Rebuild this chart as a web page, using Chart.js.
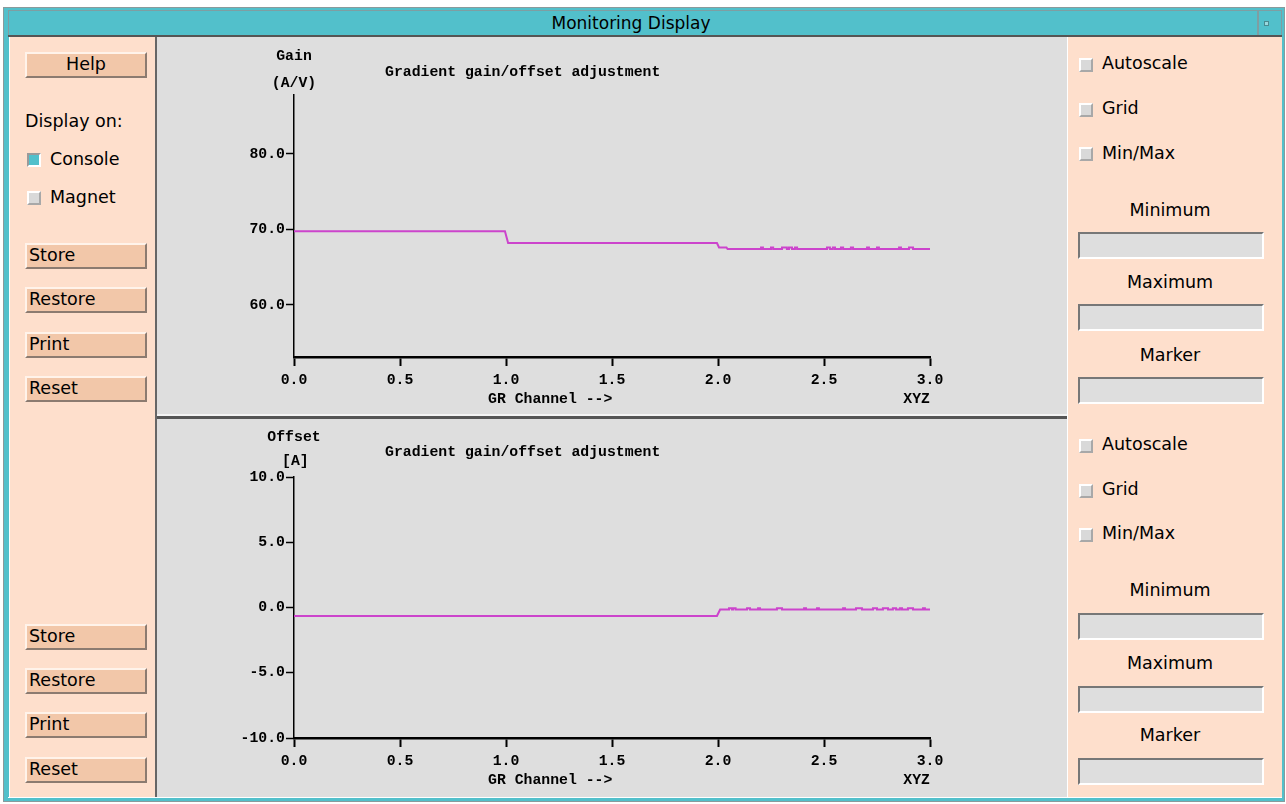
<!DOCTYPE html>
<html>
<head>
<meta charset="utf-8">
<script src="https://cdn.jsdelivr.net/npm/chart.js@4.4.1/dist/chart.umd.min.js"></script>
<style>
body { margin:0; width:1286px; height:804px; background:#fff; position:relative; overflow:hidden;
       font-family:"DejaVu Sans", sans-serif; font-size:17.5px; color:#000; }
.a { position:absolute; box-sizing:border-box; }
.peach { background:#fedfcc; }
.gray { background:#dedede; }
.btn { position:absolute; box-sizing:border-box; left:25px; width:122px; height:26px; background:#f2c7a9;
       border-top:2px solid #fff3ea; border-left:2px solid #fff3ea; border-bottom:2px solid #8c7b70; border-right:2px solid #8c7b70;
       line-height:21px; padding-left:2px; }
.lbl { position:absolute; height:22px; line-height:22px; white-space:nowrap; }
.cb { position:absolute; width:14px; height:14px; box-sizing:border-box; background:#d9d9d9;
      border-top:2px solid #fff; border-left:2px solid #fff; border-bottom:2px solid #a8a8a8; border-right:2px solid #a8a8a8; }
.cb.on { background:#52c0cb; border-top-color:#9a9a9a; border-left-color:#9a9a9a; border-bottom-color:#fff; border-right-color:#fff; }
.inp { position:absolute; left:1078px; width:186px; height:27px; box-sizing:border-box; background:#dedede;
       border-top:2px solid #777; border-left:2px solid #777; border-bottom:2px solid #fff; border-right:2px solid #fff; }
.ctr { position:absolute; left:1070px; width:200px; text-align:center; height:22px; line-height:22px; }
canvas { position:absolute; }
</style>
</head>
<body>
<!-- window frame -->
<div class="a" style="left:3px;top:7px;width:1282px;height:795px;background:#52c0cb;border:1px solid #8a9a9c;"></div>
<div class="a" style="left:8px;top:10px;width:1250px;height:26px;border:1px solid #7f9ea2;"></div>
<div class="a" style="left:1258px;top:10px;width:24px;height:26px;border:1px solid #7f9ea2;"></div>
<div class="a" style="left:1264px;top:21px;width:5px;height:5px;background:#9ad8de;border:1px solid #4a8a90;"></div>
<div class="lbl" style="left:0;width:1262px;top:12px;text-align:center;font-size:17px;">Monitoring Display</div>
<div class="a" style="left:8px;top:35px;width:1274px;height:2px;background:#555;"></div>

<!-- left panel -->
<div class="a peach" style="left:9px;top:37px;width:146px;height:760px;border-left:1px solid #fff;"></div>
<div class="a" style="left:155px;top:37px;width:2px;height:760px;background:#666;"></div>
<div class="btn" style="top:52px;text-align:center;padding-left:0;">Help</div>
<div class="lbl" style="left:25px;top:110px;">Display on:</div>
<div class="cb on" style="left:27px;top:153px;"></div>
<div class="lbl" style="left:50px;top:148px;">Console</div>
<div class="cb" style="left:27px;top:191px;"></div>
<div class="lbl" style="left:50px;top:186px;">Magnet</div>
<div class="btn" style="top:243px;">Store</div>
<div class="btn" style="top:287px;">Restore</div>
<div class="btn" style="top:332px;">Print</div>
<div class="btn" style="top:376px;">Reset</div>
<div class="btn" style="top:624px;">Store</div>
<div class="btn" style="top:668px;">Restore</div>
<div class="btn" style="top:712px;">Print</div>
<div class="btn" style="top:757px;">Reset</div>

<!-- plot panels -->
<div class="a gray" style="left:157px;top:37px;width:910px;height:379px;"></div>
<div class="a" style="left:157px;top:414px;width:910px;height:2px;background:#f4f4f4;"></div>
<div class="a" style="left:157px;top:416px;width:910px;height:3px;background:#555;"></div>
<div class="a gray" style="left:157px;top:419px;width:910px;height:378px;"></div>
<canvas id="gainChart" style="left:157px;top:37px;" width="910" height="380"></canvas>
<canvas id="offsetChart" style="left:157px;top:419px;" width="910" height="378"></canvas>

<!-- right panel -->
<div class="a peach" style="left:1067px;top:37px;width:215px;height:760px;border-left:1px solid #fff;"></div>
<div class="cb" style="left:1079px;top:58px;"></div><div class="lbl" style="left:1102px;top:52px;">Autoscale</div>
<div class="cb" style="left:1079px;top:103px;"></div><div class="lbl" style="left:1102px;top:97px;">Grid</div>
<div class="cb" style="left:1079px;top:147px;"></div><div class="lbl" style="left:1102px;top:142px;">Min/Max</div>
<div class="ctr" style="top:199px;">Minimum</div><div class="inp" style="top:232px;"></div>
<div class="ctr" style="top:271px;">Maximum</div><div class="inp" style="top:304px;"></div>
<div class="ctr" style="top:344px;">Marker</div><div class="inp" style="top:377px;"></div>

<div class="cb" style="left:1079px;top:439px;"></div><div class="lbl" style="left:1102px;top:433px;">Autoscale</div>
<div class="cb" style="left:1079px;top:484px;"></div><div class="lbl" style="left:1102px;top:478px;">Grid</div>
<div class="cb" style="left:1079px;top:528px;"></div><div class="lbl" style="left:1102px;top:522px;">Min/Max</div>
<div class="ctr" style="top:579px;">Minimum</div><div class="inp" style="top:613px;"></div>
<div class="ctr" style="top:652px;">Maximum</div><div class="inp" style="top:686px;"></div>
<div class="ctr" style="top:724px;">Marker</div><div class="inp" style="top:758px;"></div>
<div class="a" style="left:8px;top:797px;width:1274px;height:1px;background:#fff;"></div>

<script>
// gain trace, GR channel vs. gain (A/V)
const gainX = [0, 0.995, 1.01, 1.995, 2.005, 2.04, 2.045,
  2.203, 2.203, 2.212, 2.212, 2.25, 2.25, 2.26, 2.26, 2.302, 2.302, 2.325, 2.325,
  2.335, 2.335, 2.349, 2.349, 2.363, 2.363, 2.373, 2.373, 2.514, 2.514, 2.528, 2.528,
  2.542, 2.542, 2.552, 2.552, 2.58, 2.58, 2.59, 2.59, 2.627, 2.627, 2.637, 2.637,
  2.703, 2.703, 2.712, 2.712, 2.75, 2.75, 2.759, 2.759, 2.854, 2.854, 2.863, 2.863,
  2.901, 2.901, 2.92, 2.92, 3.0];
const gainY = [69.75, 69.75, 68.2, 68.2, 67.6, 67.6, 67.4,
  67.4, 67.6, 67.6, 67.4, 67.4, 67.6, 67.6, 67.4, 67.4, 67.6, 67.6, 67.4,
  67.4, 67.6, 67.6, 67.4, 67.4, 67.6, 67.6, 67.4, 67.4, 67.6, 67.6, 67.4,
  67.4, 67.6, 67.6, 67.4, 67.4, 67.6, 67.6, 67.4, 67.4, 67.6, 67.6, 67.4,
  67.4, 67.6, 67.6, 67.4, 67.4, 67.6, 67.6, 67.4, 67.4, 67.6, 67.6, 67.4,
  67.4, 67.6, 67.6, 67.4, 67.4];

// offset trace, GR channel vs. offset [A]
const offsetX = [0, 1.995, 2.01,
  2.052, 2.052, 2.066, 2.066, 2.071, 2.071, 2.083, 2.083, 2.137, 2.137, 2.151, 2.151,
  2.189, 2.189, 2.198, 2.198, 2.278, 2.278, 2.302, 2.302, 2.406, 2.406, 2.415, 2.415,
  2.467, 2.467, 2.476, 2.476, 2.59, 2.59, 2.599, 2.599, 2.651, 2.651, 2.679, 2.679,
  2.731, 2.731, 2.75, 2.75, 2.778, 2.778, 2.802, 2.802, 2.825, 2.825, 2.84, 2.84,
  2.858, 2.858, 2.868, 2.868, 2.896, 2.896, 2.92, 2.92, 2.967, 2.967, 2.976, 2.976, 3.0];
const offsetY = [-0.65, -0.65, -0.15,
  -0.15, -0.05, -0.05, -0.15, -0.15, -0.05, -0.05, -0.15, -0.15, -0.05, -0.05, -0.15,
  -0.15, -0.05, -0.05, -0.15, -0.15, -0.05, -0.05, -0.15, -0.15, -0.05, -0.05, -0.15,
  -0.15, -0.05, -0.05, -0.15, -0.15, -0.05, -0.05, -0.15, -0.15, -0.05, -0.05, -0.15,
  -0.15, -0.05, -0.05, -0.15, -0.15, -0.05, -0.05, -0.15, -0.15, -0.05, -0.05, -0.15,
  -0.15, -0.05, -0.05, -0.15, -0.15, -0.05, -0.05, -0.15, -0.15, -0.05, -0.05, -0.15, -0.15];

const gainTicks = [60, 70, 80];
const offsetTicks = [-10, -5, 0, 5, 10];
const xTicks = [0, 0.5, 1, 1.5, 2, 2.5, 3];

const monoFont = 'bold 14.8px "Liberation Mono", monospace';

// extra text round the plot: axis names, title, units
function textPlugin(texts) {
    return {
        id: 'texts',
        afterDraw(chart) {
            const ctx = chart.ctx;
            const area = chart.chartArea;
            ctx.save();
            ctx.font = monoFont;
            ctx.fillStyle = '#000';
            ctx.textBaseline = 'middle';
            for (const t of texts) {
                ctx.textAlign = t.align;
                ctx.fillText(t.text, area.left + t.dx, (t.fromBottom ? area.bottom : area.top) + t.dy);
            }
            ctx.restore();
        }
    };
}

function makeChart(id, xs, ys, yMin, yMax, yTicks, height, plotBottom, texts) {
    return new Chart(document.getElementById(id), {
        type: 'line',
        data: {
            datasets: [{
                data: xs.map((x, i) => ({x: x, y: ys[i]})),
                borderColor: '#cc44cc',
                borderWidth: 2,
                pointRadius: 0,
                tension: 0,
                fill: false
            }]
        },
        options: {
            responsive: false,
            animation: false,
            layout: { padding: { left: 0, right: 137, top: 58, bottom: 0 } },
            plugins: { legend: { display: false }, tooltip: { enabled: false } },
            scales: {
                x: {
                    type: 'linear',
                    min: 0,
                    max: 3,
                    afterBuildTicks: (s) => { s.ticks = xTicks.map(v => ({value: v})); },
                    afterFit: (s) => { s.height = height - plotBottom; },
                    ticks: {
                        callback: (v) => v.toFixed(1),
                        color: '#000',
                        font: { family: '"Liberation Mono", monospace', weight: 'bold', size: 14.8 },
                        padding: 5,
                        maxRotation: 0,
                        autoSkip: false
                    },
                    grid: { drawOnChartArea: false, tickLength: 9, tickWidth: 2, tickColor: '#000' },
                    border: { color: '#000', width: 2.5 }
                },
                y: {
                    min: yMin,
                    max: yMax,
                    afterBuildTicks: (s) => { s.ticks = yTicks.map(v => ({value: v})); },
                    afterFit: (s) => { s.width = 137; },
                    ticks: {
                        callback: (v) => v.toFixed(1),
                        color: '#000',
                        font: { family: '"Liberation Mono", monospace', weight: 'bold', size: 14.8 },
                        padding: 1
                    },
                    grid: { drawOnChartArea: false, tickLength: 8, tickWidth: 1.5, tickColor: '#000' },
                    border: { color: '#000', width: 1.5 }
                }
            }
        },
        plugins: [textPlugin(texts)]
    });
}

makeChart('gainChart', gainX, gainY, 53.1, 87.8, gainTicks, 380, 320, [
    {text: 'Gain', dx: 0, dy: -39, align: 'center'},
    {text: '(A/V)', dx: 0, dy: -12, align: 'center'},
    {text: 'Gradient gain/offset adjustment', dx: 91, dy: -23, align: 'left'},
    {text: 'GR Channel -->', dx: 194, dy: 42, align: 'left', fromBottom: true},
    {text: 'XYZ', dx: 636, dy: 42, align: 'right', fromBottom: true}
]);

makeChart('offsetChart', offsetX, offsetY, -10, 10, offsetTicks, 378, 319, [
    {text: 'Offset', dx: 0, dy: -40, align: 'center'},
    {text: '[A]', dx: -12, dy: -16, align: 'left'},
    {text: 'Gradient gain/offset adjustment', dx: 91, dy: -25, align: 'left'},
    {text: 'GR Channel -->', dx: 194, dy: 42, align: 'left', fromBottom: true},
    {text: 'XYZ', dx: 636, dy: 42, align: 'right', fromBottom: true}
]);
</script>
</body>
</html>
